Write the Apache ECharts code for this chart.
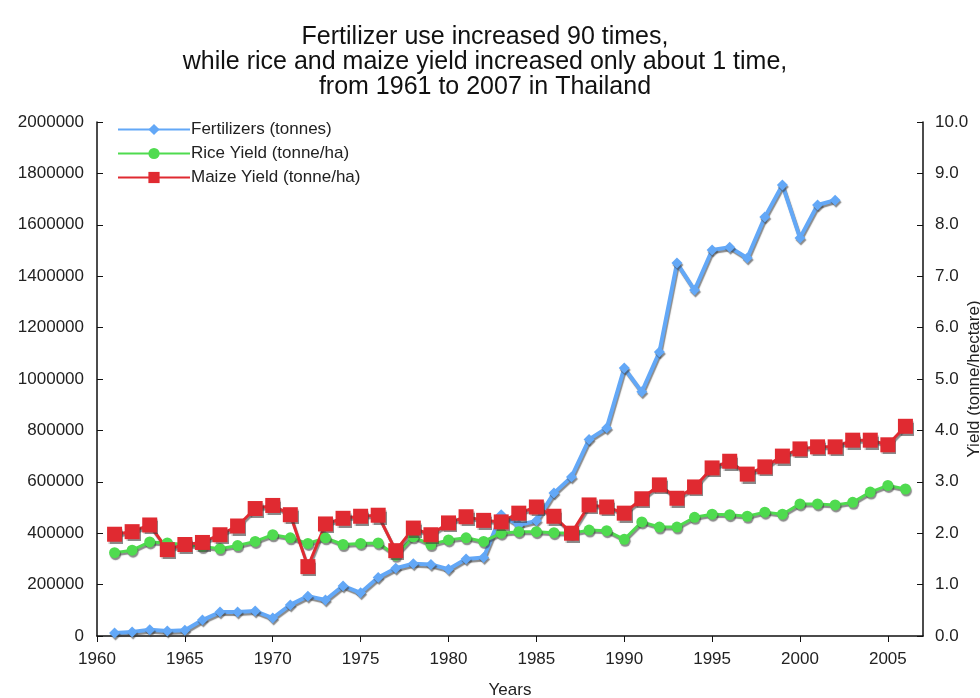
<!DOCTYPE html>
<html lang="en">

<head>
    <meta charset="UTF-8">
    <title>Fertilizer use vs rice and maize yield, Thailand</title>
    <script src="https://cdn.jsdelivr.net/npm/echarts@6/dist/echarts.min.js"></script>
</head>

<body style="margin:0">
    <div id="chart" style="width:980px;height:698px;"></div>
    <script>
        // data
        var fertYears = [1961, 1962, 1963, 1964, 1965, 1966, 1967, 1968, 1969, 1970,
            1971, 1972, 1973, 1974, 1975, 1976, 1977, 1978, 1979, 1980,
            1981, 1982, 1983, 1984, 1985, 1986, 1987, 1988, 1989, 1990,
            1991, 1992, 1993, 1994, 1995, 1996, 1997, 1998, 1999, 2000,
            2001, 2002];
        var fertilizers = [12000, 16000, 24000, 19000, 22000, 62000, 93000, 93000, 97000, 70000,
            121000, 155000, 140000, 195000, 168000, 228000, 264000, 281000, 278000, 260000,
            300000, 305000, 472000, 432000, 448000, 556000, 619000, 765000, 809000, 1043000,
            950000, 1105000, 1451000, 1346000, 1502000, 1513000, 1471000, 1630000, 1755000, 1549000,
            1677000, 1696000];

        var yieldYears = [1961, 1962, 1963, 1964, 1965, 1966, 1967, 1968, 1969, 1970,
            1971, 1972, 1973, 1974, 1975, 1976, 1977, 1978, 1979, 1980,
            1981, 1982, 1983, 1984, 1985, 1986, 1987, 1988, 1989, 1990,
            1991, 1992, 1993, 1994, 1995, 1996, 1997, 1998, 1999, 2000,
            2001, 2002, 2003, 2004, 2005, 2006];
        var riceYield = [1.62, 1.67, 1.83, 1.81, 1.78, 1.74, 1.70, 1.76, 1.84, 1.97,
            1.91, 1.80, 1.91, 1.78, 1.80, 1.81, 1.57, 1.93, 1.78, 1.87,
            1.91, 1.84, 2.00, 2.03, 2.03, 2.01, 2.00, 2.06, 2.05, 1.88,
            2.22, 2.12, 2.12, 2.31, 2.37, 2.36, 2.33, 2.41, 2.37, 2.57,
            2.57, 2.55, 2.60, 2.80, 2.93, 2.86];
        var maizeYield = [1.98, 2.03, 2.16, 1.68, 1.78, 1.82, 1.97, 2.14, 2.48, 2.54,
            2.36, 1.35, 2.18, 2.29, 2.33, 2.35, 1.66, 2.10, 1.97, 2.20,
            2.32, 2.25, 2.22, 2.39, 2.51, 2.33, 2.00, 2.55, 2.51, 2.39,
            2.67, 2.94, 2.68, 2.90, 3.27, 3.40, 3.15, 3.29, 3.50, 3.64,
            3.68, 3.68, 3.81, 3.81, 3.72, 4.08];

        var yearTicks = [1960, 1965, 1970, 1975, 1980, 1985, 1990, 1995, 2000, 2005];

        function pairs(xs, ys) {
            var out = [];
            for (var i = 0; i < xs.length; i++) {
                out.push([xs[i], ys[i]]);
            }
            return out;
        }

        var font = 'Liberation Sans, Arial, sans-serif';
        var shadow = {shadowColor: 'rgba(60,60,60,0.6)', shadowOffsetX: 1, shadowOffsetY: 2, shadowBlur: 1};

        var chart = echarts.init(document.getElementById("chart"));

        var option = {
            animation: false,
            backgroundColor: '#fff',
            textStyle: {fontFamily: font},
            title: {
                text: 'Fertilizer use increased 90 times,\nwhile rice and maize yield increased only about 1 time,\nfrom 1961 to 2007 in Thailand',
                left: 480,
                textAlign: 'center',
                top: 20,
                textStyle: {fontSize: 25, fontWeight: 'normal', color: '#111', lineHeight: 25, fontFamily: font}
            },
            legend: {
                orient: 'vertical',
                left: 112,
                top: 116,
                itemWidth: 72,
                itemHeight: 14,
                itemGap: 7,
                textStyle: {fontSize: 17, color: '#222', fontFamily: font, padding: [0, 0, 0, -4]},
                data: ['Fertilizers (tonnes)', 'Rice Yield (tonne/ha)', 'Maize Yield (tonne/ha)']
            },
            grid: {left: 97, right: 57, top: 122, bottom: 62, outerBoundsMode: 'none'},
            xAxis: {
                type: 'value',
                min: 1960,
                max: 2007,
                interval: 5,
                name: 'Years',
                nameLocation: 'middle',
                nameGap: 46,
                nameMoveOverlap: false,
                nameTextStyle: {fontSize: 17, color: '#222'},
                splitLine: {show: false},
                axisLine: {lineStyle: {color: '#111', width: 1.5}},
                axisTick: {customValues: yearTicks, length: 6, lineStyle: {color: '#111'}},
                axisLabel: {
                    customValues: yearTicks, fontSize: 17, color: '#222', margin: 15,
                    formatter: function (v) { return String(v); }
                }
            },
            yAxis: [
                {
                    type: 'value',
                    min: 0,
                    max: 2000000,
                    interval: 200000,
                    splitLine: {show: false},
                    axisLine: {show: true, lineStyle: {color: '#111', width: 1.5}},
                    axisTick: {show: true, inside: true, length: 6, lineStyle: {color: '#111'}},
                    axisLabel: {
                        fontSize: 17, color: '#222', margin: 13,
                        formatter: function (v) { return String(v); }
                    }
                },
                {
                    type: 'value',
                    min: 0,
                    max: 10,
                    interval: 1,
                    position: 'right',
                    name: 'Yield (tonne/hectare)',
                    nameLocation: 'middle',
                    nameRotate: 90,
                    nameGap: 43,
                    nameMoveOverlap: false,
                    nameTextStyle: {fontSize: 17, color: '#222'},
                    splitLine: {show: false},
                    axisLine: {show: true, lineStyle: {color: '#111', width: 1.5}},
                    axisTick: {show: true, inside: true, length: 6, lineStyle: {color: '#111'}},
                    axisLabel: {
                        fontSize: 17, color: '#222', margin: 12,
                        formatter: function (v) { return v.toFixed(1); }
                    }
                }
            ],
            series: [
                {
                    name: 'Fertilizers (tonnes)',
                    type: 'line',
                    yAxisIndex: 0,
                    data: pairs(fertYears, fertilizers),
                    symbol: 'diamond',
                    symbolSize: 11,
                    lineStyle: Object.assign({color: '#63a8f7', width: 4}, shadow),
                    itemStyle: Object.assign({color: '#63a8f7'}, shadow)
                },
                {
                    name: 'Rice Yield (tonne/ha)',
                    type: 'line',
                    yAxisIndex: 1,
                    data: pairs(yieldYears, riceYield),
                    symbol: 'circle',
                    symbolSize: 11,
                    lineStyle: Object.assign({color: '#4fdb4f', width: 3}, shadow),
                    itemStyle: Object.assign({color: '#4fdb4f'}, shadow)
                },
                {
                    name: 'Maize Yield (tonne/ha)',
                    type: 'line',
                    yAxisIndex: 1,
                    data: pairs(yieldYears, maizeYield),
                    symbol: 'rect',
                    symbolSize: 15,
                    lineStyle: Object.assign({color: '#e02a31', width: 3}, shadow),
                    itemStyle: Object.assign({color: '#e02a31'}, shadow)
                }
            ]
        };

        chart.setOption(option);
    </script>
</body>

</html>
